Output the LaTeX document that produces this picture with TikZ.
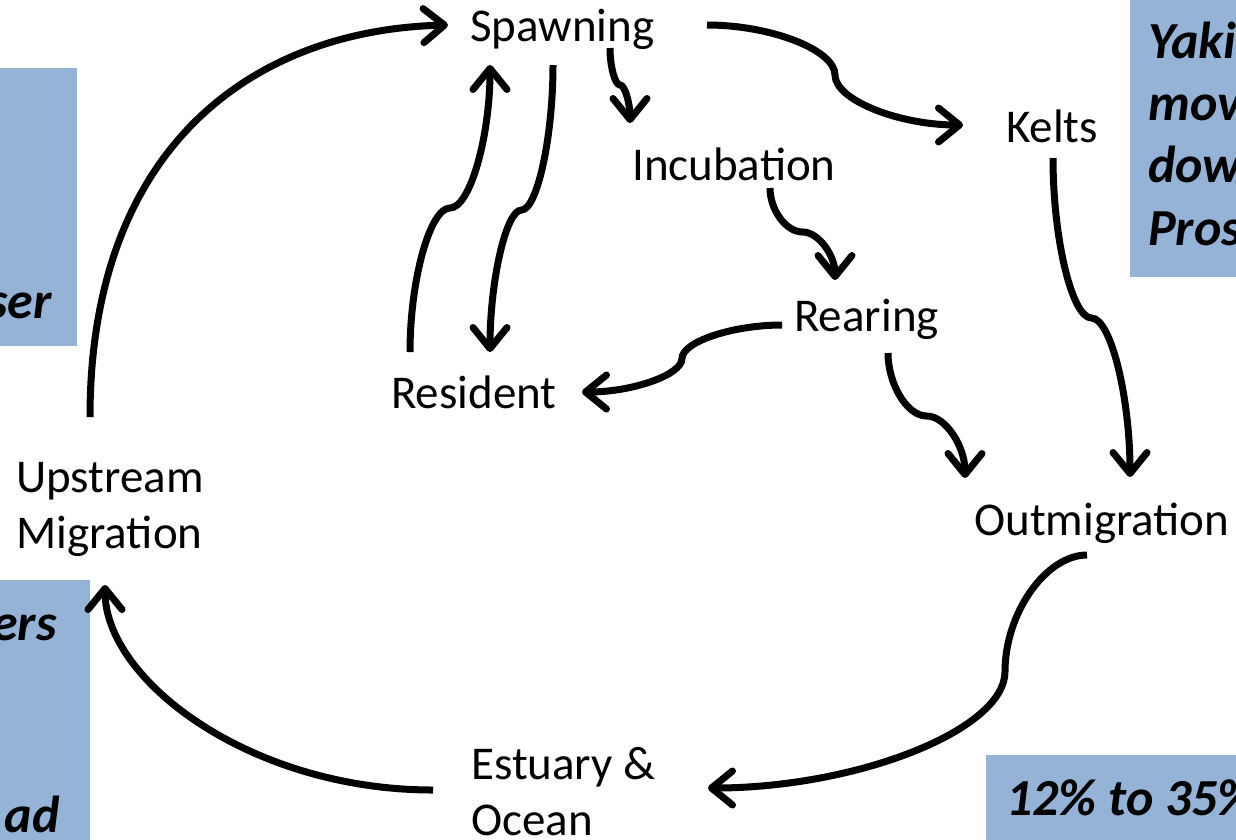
\documentclass[tikz,border=0pt]{standalone}
\usepackage{fontspec}
\setmainfont{Carlito}
\usetikzlibrary{arrows.meta}
\definecolor{boxblue}{RGB}{149,179,215}
\begin{document}
\begin{tikzpicture}[x=1pt,y=-1pt,
  lbl/.style={font=\fontsize{47}{56}\selectfont, inner sep=0pt, anchor=base west},
  note/.style={font=\fontsize{52}{62}\selectfont\bfseries\itshape, inner sep=0pt},
  conn/.style={line width=7pt, -{Straight Barb[length=21pt,width=34pt,round]}},
  boxfill/.style={fill=boxblue}]
\useasboundingbox (0,0) rectangle (1236,839);
% background boxes
\fill[boxfill] (-5,68) rectangle (77,346);
\fill[boxfill] (-5,580) rectangle (90,845);
\fill[boxfill] (1130,-5) rectangle (1245,277);
\fill[boxfill] (986,755) rectangle (1245,845);
% box texts (cut by the page edge)
\node[note, anchor=base east] (n1) at (52,318) {ser};
\node[note, anchor=base east] (n2) at (57,640) {ers};
\node[note, anchor=base east] (n3) at (60,832) {ad};
\node[note, anchor=base west] (n4) at (1148,58) {Yaki};
\node[note, anchor=base west] (n5) at (1148,120) {mov};
\node[note, anchor=base west] (n6) at (1148,182) {dow};
\node[note, anchor=base west] (n7) at (1148,245) {Pros};
\node[note, anchor=base west] (n8) at (1006,815) {12\% to 35\%};
% stage labels
\node[lbl] (sp) at (470,41) {Spawning};
\node[lbl] (ke) at (1006,142) {Kelts};
\node[lbl] (inc) at (632,180) {Incubation};
\node[lbl] (rea) at (794,331) {Rearing};
\node[lbl] (res) at (391,408) {Resident};
\node[lbl, align=left] (up) at (16,548) {Upstream\\Migration};
\node[lbl] (out) at (974,535) {Outmigration};
\node[lbl, align=left] (est) at (471,835) {Estuary \&\\Ocean};
% connectors
\draw[conn] ([shift={(74,-131)}]up.base west) .. controls (90,150) and (250,30) .. ([shift={(-22,-16)}]sp.base west);
\draw[conn] ([shift={(237,-16)}]sp.base west) .. controls (771,25) and (835,50) .. (835,75)
  .. controls (835,100) and (899,125) .. ([shift={(-43,-17)}]ke.base west);
\draw[conn] ([shift={(140,7)}]sp.base west) .. controls (610,66.5) and (615,85) .. (620,85)
  .. controls (625,85) and (630,104) .. ([shift={(-2,-57)}]inc.base west);
\draw[conn] ([shift={(83,24)}]sp.base west) .. controls (553,137.5) and (537,210) .. (521.5,210)
  .. controls (506,210) and (490,281) .. ([shift={(99,-56)}]res.base west);
\draw[conn] ([shift={(19,-56)}]res.base west) .. controls (410,280) and (430,208) .. (450,208)
  .. controls (470,208) and (490,136.5) .. ([shift={(20,24)}]sp.base west);
\draw[conn] ([shift={(138,8)}]inc.base west) .. controls (770,210) and (786,232) .. (802.5,232)
  .. controls (819,232) and (835,256) .. ([shift={(41,-51)}]rea.base west);
\draw[conn] ([shift={(47,16)}]ke.base west) .. controls (1053,239) and (1072,318) .. (1091.5,318)
  .. controls (1111,318) and (1130,398) .. ([shift={(156,-58)}]out.base west);
\draw[conn] ([shift={(-12,-6)}]rea.base west) .. controls (732,325) and (682,342) .. (682,358.5)
  .. controls (682,375) and (632,392) .. ([shift={(191,-16)}]res.base west);
\draw[conn] ([shift={(94,22)}]rea.base west) .. controls (888,384) and (907,416) .. (926.5,416)
  .. controls (946,416) and (965,447) .. ([shift={(-9,-57)}]out.base west);
\draw[conn] ([shift={(113,20)}]out.base west) .. controls (1046,555) and (1005,613) .. (1005,671.5)
  .. controls (1005,730) and (856.5,788) .. ([shift={(237,-47)}]est.base west);
\draw[conn] ([shift={(-38,-45)}]est.base west) .. controls (250,790) and (105,680) .. ([shift={(89,37)}]up.base west);
\end{tikzpicture}
\end{document}
